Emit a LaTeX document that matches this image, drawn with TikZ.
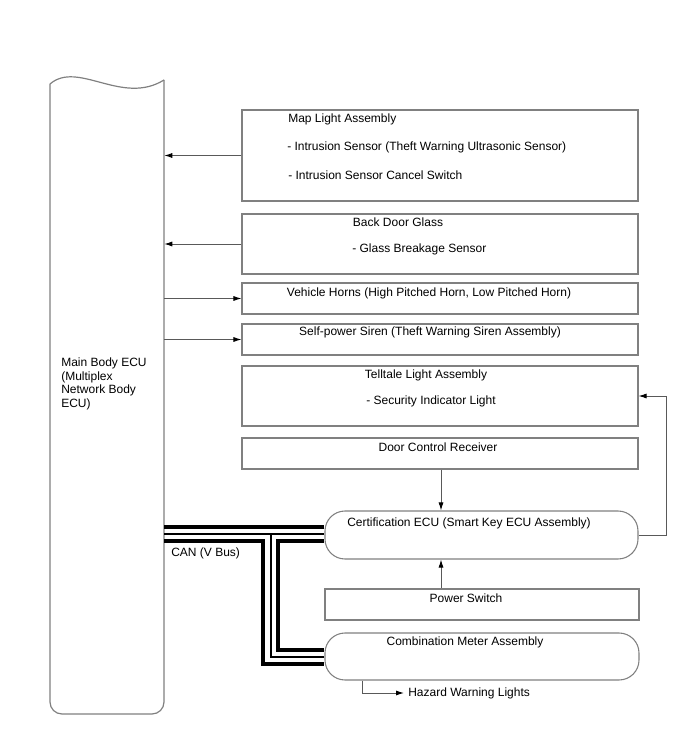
\documentclass[tikz,border=0pt]{standalone}
\usepackage{fontspec}
\setmainfont{Liberation Sans}
\usetikzlibrary{fit,arrows.meta}
\begin{document}
\begin{tikzpicture}[x=0.75pt,y=-0.75pt,
 box/.style={draw=black!50,line width=0.8pt,inner sep=0pt},
 rbox/.style={box,rounded corners=15pt},
 lbl/.style={inner sep=0pt,font=\fontsize{9}{10.1}\selectfont},
 conn/.style={draw=black!65,line width=0.7pt,-{Latex[length=6pt,width=3.8pt,black]}},
 thickbus/.style={line width=2.4pt,black},
 thinbus/.style={line width=0.8pt,black},
 eculine/.style={draw=black!50,line width=0.9pt}]
\useasboundingbox (0,0) rectangle (688,755);

% Main Body ECU
\draw[eculine] (50,84) .. controls (78,60) and (122,106) .. (164,80);
\draw[eculine] (50,84) -- (50,702) arc (180:90:12) -- (152,714) arc (90:0:12) -- (164,80);
\node[fit={(50,84) (164,714)},inner sep=0pt] (ecu) {};
\node[lbl,align=left,anchor=west] (ecutxt) at (61,384) {Main Body ECU\\(Multiplex\\Network Body\\ECU)};

% boxes
\node[box,fit={(242,110) (638,201)}] (map) {};
\node[box,fit={(242,214) (638,274)}] (back) {};
\node[box,fit={(242,283) (638,314)}] (horn) {};
\node[box,fit={(242,324) (638,355)}] (siren) {};
\node[box,fit={(242,366) (638,426)}] (tell) {};
\node[box,fit={(242,438) (638,469)}] (door) {};
\node[rbox,fit={(325,511) (638,559)}] (cert) {};
\node[box,fit={(325,589) (639,620)}] (power) {};
\node[rbox,fit={(325,633) (639,680)}] (comb) {};

% texts
\node[lbl,anchor=west] (t1) at (288,119) {Map Light Assembly};
\node[lbl,anchor=west] (t2) at (287,147) {- Intrusion Sensor (Theft Warning Ultrasonic Sensor)};
\node[lbl,anchor=west] (t3) at (288,175) {- Intrusion Sensor Cancel Switch};
\node[lbl] (t4) at (398,222) {Back Door Glass};
\node[lbl,anchor=west] (t5) at (352,249) {- Glass Breakage Sensor};
\node[lbl] (t6) at (429,293) {Vehicle Horns (High Pitched Horn, Low Pitched Horn)};
\node[lbl] (t7) at (430,332) {Self-power Siren (Theft Warning Siren Assembly)};
\node[lbl] (t8) at (426,375) {Telltale Light Assembly};
\node[lbl,anchor=west] (t9) at (366,401) {- Security Indicator Light};
\node[lbl] (t10) at (438,447) {Door Control Receiver};
\node[lbl] (t11) at (469,523) {Certification ECU (Smart Key ECU Assembly)};
\node[lbl] (t12) at (466,598) {Power Switch};
\node[lbl] (t13) at (465,642) {Combination Meter Assembly};
\node[lbl,anchor=west] (haz) at (408,693) {Hazard Warning Lights};
\node[lbl,anchor=west] (can) at (171,553) {CAN (V Bus)};

% connectors to/from ECU
\draw[conn] (map.west) -- (map.west -| ecu.east);
\draw[conn] (back.west) -- (back.west -| ecu.east);
\draw[conn] (horn.west -| ecu.east) -- (horn.west);
\draw[conn] (siren.west -| ecu.east) -- (siren.west);

% door receiver and power switch to certification ECU
\coordinate (vx) at (441,0);
\draw[conn] (vx |- door.south) -- (vx |- cert.north);
\draw[conn] (vx |- power.north) -- (vx |- cert.south);

% certification ECU to telltale
\coordinate (rx) at (666,0);
\draw[conn] (cert.east) -- (rx |- cert.east) -- (rx |- tell.east) -- (tell.east);

% hazard
\coordinate (hx) at (362,0);
\draw[conn] (hx |- comb.south) -- (hx |- haz.west) -- ([xshift=-3pt]haz.west);

% CAN bus
\coordinate (b1) at (0,527);
\coordinate (b2) at (0,534);
\coordinate (b3) at (0,541);
\draw[thickbus] (ecu.east |- b1) -- (cert.west |- b1);
\draw[thinbus] (ecu.east |- b2) -- (cert.west |- b2);
\draw[thinbus] (271,534) -- (271,657) -- (comb.west |- 0,657);
\draw[thickbus] (ecu.east |- b3) -- (263,541) -- (263,664) -- (comb.west |- 0,664);
\draw[thickbus] (cert.west |- b3) -- (278,541) -- (278,650) -- (comb.west |- 0,650);
\end{tikzpicture}
\end{document}
